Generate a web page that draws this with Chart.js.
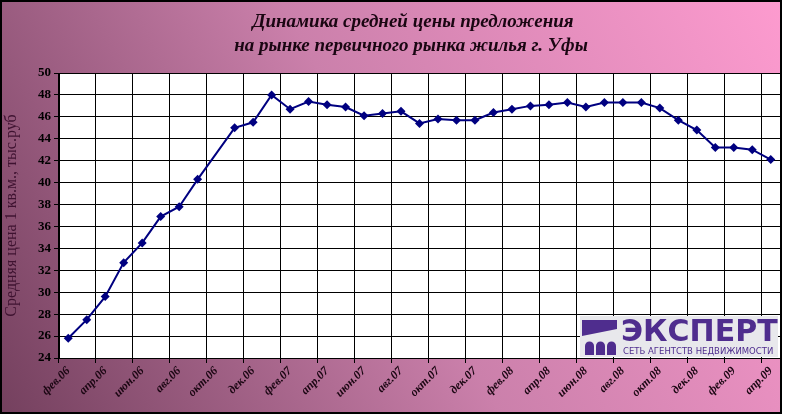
<!DOCTYPE html>
<html>
<head>
<meta charset="utf-8">
<script src="https://cdn.jsdelivr.net/npm/chart.js@4.4.0/dist/chart.umd.min.js"></script>
<style>
  html, body { margin: 0; padding: 0; background: #fff; }
  #wrap { width: 786px; height: 419px; }
</style>
</head>
<body>
<div id="wrap"><canvas id="priceChart" width="786" height="419"></canvas></div>
<script>
// месяцы с фев.06 по апр.09
const months = [
  'фев.06', 'мар.06', 'апр.06', 'май.06', 'июн.06', 'июл.06', 'авг.06', 'сен.06', 'окт.06', 'ноя.06', 'дек.06',
  'янв.07', 'фев.07', 'мар.07', 'апр.07', 'май.07', 'июн.07', 'июл.07', 'авг.07', 'сен.07', 'окт.07', 'ноя.07', 'дек.07',
  'янв.08', 'фев.08', 'мар.08', 'апр.08', 'май.08', 'июн.08', 'июл.08', 'авг.08', 'сен.08', 'окт.08', 'ноя.08', 'дек.08',
  'янв.09', 'фев.09', 'мар.09', 'апр.09'
];

// средняя цена 1 кв.м., тыс.руб (окт.06 нет данных)
const prices = [
  25.8, 27.5, 29.6, 32.7, 34.5, 36.9, 37.8, 40.3, null, 45.0, 45.5,
  48.0, 46.7, 47.4, 47.1, 46.9, 46.1, 46.3, 46.5, 45.4, 45.8, 45.7, 45.7,
  46.4, 46.7, 47.0, 47.1, 47.3, 46.9, 47.3, 47.3, 47.3, 46.8, 45.7, 44.8,
  43.2, 43.2, 43.0, 42.1
];

const yMin = 24;
const yMax = 50;
const yStep = 2;

const titleLines = ['Динамика средней цены предложения', 'на рынке первичного рынка жилья г. Уфы'];
const yTitle = 'Средняя цена 1 кв.м., тыс.руб';

const serif = '"Liberation Serif", "Times New Roman", serif';

const decor = {
  id: 'decor',
  beforeDraw(chart) {
    const c = chart.ctx;
    const area = chart.chartArea;
    c.save();
    c.fillStyle = '#fff';
    c.fillRect(0, 0, chart.width, chart.height);
    const g = c.createLinearGradient(0, 413, 781, 0);
    g.addColorStop(0, '#74405e');
    g.addColorStop(0.5, '#cb80ab');
    g.addColorStop(1, '#fd9bcf');
    c.fillStyle = g;
    c.fillRect(1, 1, 780, 412);
    c.fillStyle = '#fff';
    c.fillRect(area.left, area.top, area.right - area.left, area.bottom - area.top);
    c.restore();
  },
  afterDraw(chart) {
    const c = chart.ctx;
    const area = chart.chartArea;
    c.save();
    // рамка области построения
    c.strokeStyle = '#000';
    c.lineWidth = 1;
    c.strokeRect(area.left + 0.5, area.top + 0.5, area.right - area.left, area.bottom - area.top);
    // внешняя рамка
    c.lineWidth = 2;
    c.strokeRect(1, 1, 780, 412);

    // заголовок
    c.fillStyle = '#1a0612';
    c.textAlign = 'center';
    c.textBaseline = 'middle';
    c.font = 'italic bold 19px ' + serif;
    c.fillText(titleLines[0], 413, 22);
    c.fillText(titleLines[1], 411, 46);

    // логотип
    const lx = 580, ly = 316;
    c.fillStyle = '#e8e8ec';
    c.fillRect(lx, ly, 198, 41);
    c.fillStyle = '#4f2d8e';
    c.beginPath();
    c.moveTo(lx + 2, ly + 4);
    c.lineTo(lx + 37, ly + 4);
    c.lineTo(lx + 37, ly + 13);
    c.lineTo(lx + 2, ly + 20);
    c.closePath();
    c.fill();
    for (let i = 0; i < 3; i++) {
      const ax = lx + 5 + i * 11;
      c.beginPath();
      c.moveTo(ax, ly + 39);
      c.lineTo(ax, ly + 30);
      c.arc(ax + 4.5, ly + 30, 4.5, Math.PI, 0);
      c.lineTo(ax + 9, ly + 39);
      c.closePath();
      c.fill();
    }
    c.textAlign = 'left';
    c.textBaseline = 'alphabetic';
    c.font = 'bold 30px "DejaVu Sans", sans-serif';
    c.fillText('ЭКСПЕРТ', lx + 41, ly + 25);
    c.font = '8.5px "DejaVu Sans", sans-serif';
    c.fillText('СЕТЬ АГЕНТСТВ НЕДВИЖИМОСТИ', lx + 43, ly + 38);
    c.restore();
  }
};

const ctx = document.getElementById('priceChart').getContext('2d');

new Chart(ctx, {
  type: 'line',
  data: {
    labels: months,
    datasets: [{
      data: prices,
      borderColor: '#000080',
      backgroundColor: '#000080',
      borderWidth: 2,
      pointStyle: 'rectRot',
      pointRadius: 4.5,
      pointBorderWidth: 0,
      pointBackgroundColor: '#000080',
      spanGaps: true,
      tension: 0,
      fill: false
    }]
  },
  options: {
    responsive: false,
    animation: false,
    devicePixelRatio: 1,
    layout: { padding: { left: 0, top: 73, right: 6, bottom: 0 } },
    plugins: {
      legend: { display: false },
      title: { display: false },
      tooltip: { enabled: false }
    },
    scales: {
      x: {
        type: 'category',
        offset: true,
        grid: {
          offset: true,
          color: (c) => (c.index % 2 === 0 ? '#000' : 'rgba(0,0,0,0)'),
          lineWidth: 1,
          tickLength: 5
        },
        border: { color: '#000', width: 1 },
        ticks: {
          autoSkip: false,
          maxRotation: 45,
          minRotation: 45,
          padding: 1,
          color: '#1a0612',
          font: { family: serif, style: 'italic', weight: 'bold', size: 12 },
          callback: (v, i) => (i % 2 === 0 ? months[i] : '')
        },
        afterFit: (s) => { s.height = 61; }
      },
      y: {
        min: yMin,
        max: yMax,
        grid: { color: '#000', lineWidth: 1, tickLength: 5 },
        border: { color: '#000', width: 1 },
        ticks: {
          stepSize: yStep,
          padding: 3,
          color: '#000',
          font: { family: serif, weight: 'bold', size: 13 }
        },
        title: {
          display: true,
          text: yTitle,
          color: '#3e1230',
          padding: { top: 2, bottom: 0 },
          font: { family: serif, size: 16 }
        },
        afterFit: (s) => { s.width = 59; }
      }
    }
  },
  plugins: [decor]
});
</script>
</body>
</html>
